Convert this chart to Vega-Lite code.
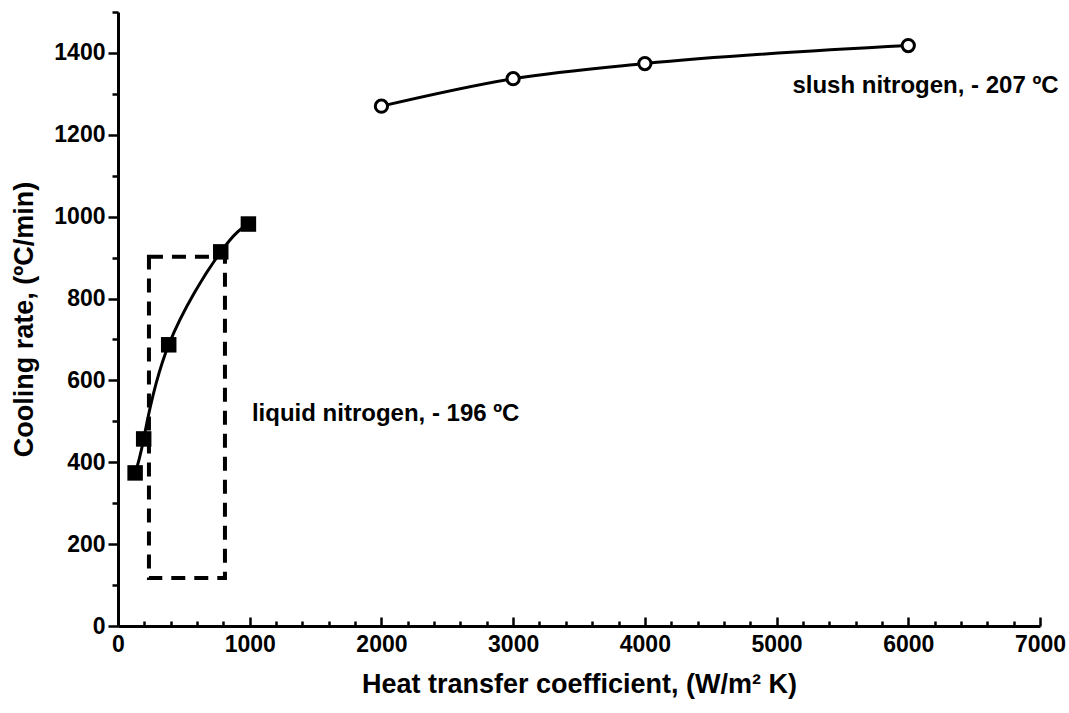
{
  "$schema": "https://vega.github.io/schema/vega-lite/v6.json",
  "width": 922,
  "height": 614,
  "autosize": "none",
  "padding": {"left": 118, "top": 12, "right": 29, "bottom": 87},
  "background": "white",
  "config": {
    "view": {"stroke": null},
    "font": "Liberation Sans",
    "axis": {
      "grid": false,
      "domainColor": "black",
      "domainWidth": 3,
      "tickColor": "black",
      "tickWidth": 2.5,
      "labelFont": "Liberation Sans",
      "labelFontSize": 23,
      "labelFontWeight": "bold",
      "labelColor": "black",
      "titleFont": "Liberation Sans",
      "titleFontSize": 27,
      "titleFontWeight": "bold",
      "titleColor": "black",
      "labelOverlap": false,
      "labelFlush": false,
      "labelBound": false
    }
  },
  "datasets": {
    "liquid": [
      {"h": 130, "rate": 374},
      {"h": 195, "rate": 457},
      {"h": 385, "rate": 687},
      {"h": 780, "rate": 914},
      {"h": 990, "rate": 982}
    ],
    "slush": [
      {"h": 2000, "rate": 1270},
      {"h": 3000, "rate": 1337},
      {"h": 4000, "rate": 1374},
      {"h": 6000, "rate": 1418}
    ]
  },
  "layer": [
    {
      "data": {"name": "liquid"},
      "mark": {"type": "line", "interpolate": "natural", "color": "black", "strokeWidth": 3},
      "encoding": {
        "x": {
          "field": "h",
          "type": "quantitative",
          "scale": {"domain": [0, 7000], "nice": false},
          "axis": {
            "values": [0,200,400,600,800,1000,1200,1400,1600,1800,2000,2200,2400,2600,2800,3000,3200,3400,3600,3800,4000,4200,4400,4600,4800,5000,5200,5400,5600,5800,6000,6200,6400,6600,6800,7000],
            "tickCount": 100,
            "format": "d",
            "labelExpr": "datum.value % 1000 === 0 ? datum.label : ''",
            "labelOverlap": false,
            "tickSize": {"condition": {"test": "datum.value % 1000 !== 0", "value": -5}, "value": -9},
            "labelPadding": 16,
            "title": "Heat transfer coefficient, (W/m² K)",
            "titlePadding": 11
          }
        },
        "y": {
          "field": "rate",
          "type": "quantitative",
          "scale": {"domain": [0, 1500], "nice": false},
          "axis": {
            "values": [0,100,200,300,400,500,600,700,800,900,1000,1100,1200,1300,1400,1500],
            "tickCount": 100,
            "format": "d",
            "labelExpr": "datum.value % 200 === 0 ? datum.label : ''",
            "labelOverlap": false,
            "tickSize": {"condition": {"test": "datum.value % 200 !== 0", "value": 6}, "value": 10},
            "labelPadding": 3,
            "title": "Cooling rate, (ºC/min)",
            "titlePadding": 15
          }
        }
      }
    },
    {
      "data": {"values": [{}]},
      "mark": {"type": "rect", "fill": null, "filled": false, "stroke": "black", "strokeWidth": 4, "strokeDash": [14, 9]},
      "encoding": {
        "x": {"datum": 235, "type": "quantitative"},
        "x2": {"datum": 812},
        "y": {"datum": 117, "type": "quantitative"},
        "y2": {"datum": 902}
      }
    },
    {
      "data": {"name": "liquid"},
      "mark": {"type": "point", "shape": "square", "filled": true, "color": "black", "size": 240, "opacity": 1},
      "encoding": {
        "x": {"field": "h", "type": "quantitative"},
        "y": {"field": "rate", "type": "quantitative"}
      }
    },
    {
      "data": {"name": "slush"},
      "mark": {"type": "line", "interpolate": "monotone", "color": "black", "strokeWidth": 3},
      "encoding": {
        "x": {"field": "h", "type": "quantitative"},
        "y": {"field": "rate", "type": "quantitative"}
      }
    },
    {
      "data": {"name": "slush"},
      "mark": {"type": "point", "shape": "circle", "filled": true, "fill": "white", "stroke": "black", "strokeWidth": 3, "size": 150, "opacity": 1},
      "encoding": {
        "x": {"field": "h", "type": "quantitative"},
        "y": {"field": "rate", "type": "quantitative"}
      }
    },
    {
      "data": {"values": [{}]},
      "mark": {"type": "text", "text": "slush nitrogen, - 207 ºC", "align": "left", "baseline": "alphabetic", "fontSize": 24, "fontWeight": "bold", "font": "Liberation Sans", "color": "black"},
      "encoding": {
        "x": {"datum": 5120, "type": "quantitative"},
        "y": {"datum": 1302, "type": "quantitative"}
      }
    },
    {
      "data": {"values": [{}]},
      "mark": {"type": "text", "text": "liquid nitrogen, - 196 ºC", "align": "left", "baseline": "alphabetic", "fontSize": 24, "fontWeight": "bold", "font": "Liberation Sans", "color": "black"},
      "encoding": {
        "x": {"datum": 1017, "type": "quantitative"},
        "y": {"datum": 501, "type": "quantitative"}
      }
    }
  ]
}
